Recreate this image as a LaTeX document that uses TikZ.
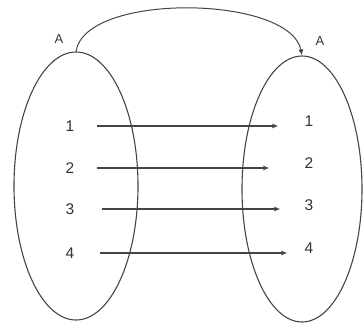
\documentclass[tikz,border=0pt]{standalone}
\usepackage{fontspec}
\setmainfont{Liberation Sans}
\usetikzlibrary{arrows.meta,shapes.geometric}
\definecolor{linegray}{HTML}{444444}
\definecolor{textdark}{HTML}{333333}
\tikzset{
  >=Latex,
  setshape/.style={ellipse, draw=linegray, line width=1.1pt, inner sep=0pt},
  elem/.style={inner sep=0pt, font=\fontsize{15.5}{17}\selectfont, text=textdark},
  setlabel/.style={inner sep=0pt, font=\fontsize{13}{15}\selectfont, text=textdark},
  arrow/.style={-{Latex[length=6pt,width=5pt]}, line width=1.2pt, draw=linegray}
}

\begin{document}
\begin{tikzpicture}[x=1pt,y=-1pt]
\useasboundingbox (0,0) rectangle (364,327);
% the two sets
\node[setshape, minimum width=124pt, minimum height=268pt] (setA) at (76,186) {};
\node[setshape, minimum width=120pt, minimum height=266pt] (setB) at (302,189) {};
\node[setlabel] (lblA) at (59,39) {A};
\node[setlabel] (lblB) at (320,41) {A};
% elements
\node[elem] (l1) at (70,126) {1};
\node[elem] (l2) at (70,168) {2};
\node[elem] (l3) at (70,209) {3};
\node[elem] (l4) at (70,253) {4};
\node[elem] (r1) at (309,121) {1};
\node[elem] (r2) at (309,163) {2};
\node[elem] (r3) at (309,205) {3};
\node[elem] (r4) at (309,248) {4};
% mapping
\draw[arrow, shorten <=22pt, shorten >=26pt] (l1.east) -- (l1.east -| r1.west);
\draw[arrow, shorten <=22pt, shorten >=35pt] (l2.east) -- (l2.east -| r2.west);
\draw[arrow, shorten <=27pt, shorten >=24pt] (l3.east) -- (l3.east -| r3.west);
\draw[arrow, shorten <=25pt, shorten >=17pt] (l4.east) -- (l4.east -| r4.west);
\draw[arrow, line width=1pt] (setA.north) .. controls (85,-8) and (290,-5) .. (setB.north);
\end{tikzpicture}
\end{document}
